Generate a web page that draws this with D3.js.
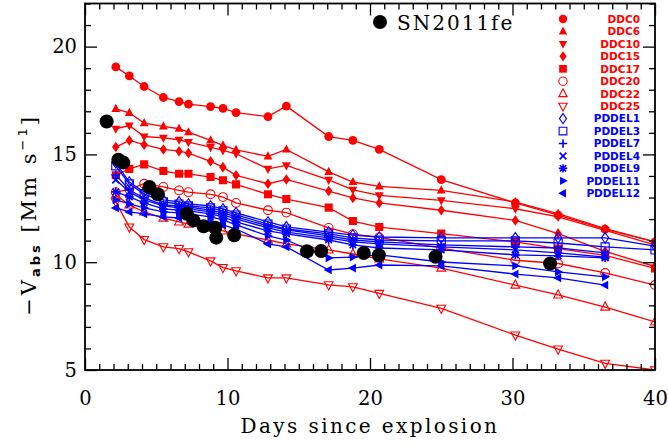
<!DOCTYPE html>
<html>
<head>
<meta charset="utf-8">
<script src="https://cdn.jsdelivr.net/npm/d3@7"></script>
<style>
  html, body { margin: 0; padding: 0; background: #fff; }
  svg { display: block; }
</style>
</head>
<body>
<script>
// ---------------- DATA ----------------
const epochs = [2.16, 3.11, 4.15, 5.5, 6.6, 7.26, 8.81, 9.68, 10.6, 12.84, 14.13, 17.1, 18.8, 20.65, 25.0, 30.2, 33.2, 36.5, 40];

const ddc0  = [19.06, 18.64, 18.15, 17.64, 17.45, 17.33, 17.22, 17.14, 16.94, 16.75, 17.24, 15.83, 15.65, 15.23, 13.83, 12.75, 12.18, 11.53, 10.94];
const ddc6  = [17.11, 16.93, 16.45, 16.30, 16.19, 16.03, 15.65, 15.42, 15.21, 14.91, 15.23, 14.19, 13.72, 13.52, 13.33, 12.79, 12.25, 11.56, 10.94];
const ddc10 = [16.19, 16.34, 15.83, 15.77, 15.68, 15.57, 15.34, 15.19, 15.03, 14.33, 14.49, 13.82, 13.36, 13.10, 12.87, 12.48, 12.10, 11.48, 10.80];
const ddc15 = [15.34, 15.65, 15.45, 15.23, 15.15, 15.06, 14.68, 14.41, 14.03, 13.64, 13.84, 13.30, 12.98, 12.75, 12.41, 11.94, 11.33, 10.50, 9.80];
const ddc17 = [14.03, 14.33, 14.54, 14.23, 14.10, 14.10, 13.95, 13.80, 13.61, 13.15, 12.93, 12.53, 11.91, 11.63, 11.33, 10.94, 10.63, 10.32, 9.71];
const ddc20 = [13.25, 13.38, 13.64, 13.49, 13.33, 13.25, 13.15, 13.02, 12.75, 12.41, 12.30, 11.59, 11.30, 11.15, 10.65, 10.09, 9.94, 9.50, 8.94];
const ddc22 = [13.12, 12.66, 12.33, 12.05, 11.87, 11.77, 11.59, 11.45, 11.31, 11.03, 10.85, 10.57, 10.38, 10.15, 9.73, 8.94, 8.48, 7.92, 7.23];
const ddc25 = [12.80, 11.63, 11.05, 10.71, 10.63, 10.48, 10.06, 9.75, 9.60, 9.27, 9.27, 8.95, 8.86, 8.55, 7.86, 6.62, 5.97, 5.31, 5.00];

const pddel1  = [14.61, 13.72, 13.26, 12.89, 12.80, 12.70, 12.61, 12.47, 12.29, 11.87, 11.64, 11.40, 11.26, 11.17, 11.13, 11.13, 11.13, 11.13, 10.75];
const pddel3  = [14.47, 13.63, 13.17, 12.80, 12.70, 12.61, 12.52, 12.38, 12.19, 11.77, 11.54, 11.31, 11.13, 11.03, 10.99, 10.99, 10.89, 10.71, 10.57];
const pddel7  = [14.05, 13.35, 12.98, 12.66, 12.61, 12.56, 12.42, 12.29, 12.10, 11.68, 11.50, 11.22, 11.03, 10.94, 10.80, 10.71, 10.66, 10.43];
const pddel4  = [13.82, 13.26, 12.89, 12.61, 12.52, 12.47, 12.33, 12.19, 12.01, 11.59, 11.40, 11.13, 10.94, 10.85, 10.71, 10.57, 10.43, 10.24];
const pddel9  = [13.26, 13.03, 12.75, 12.47, 12.42, 12.38, 12.24, 12.10, 11.87, 11.45, 11.31, 11.03, 10.80, 10.66, 10.57, 10.34, 10.29, 10.20];
const pddel11 = [12.89, 12.70, 12.52, 12.33, 12.29, 12.24, 12.10, 11.96, 11.73, 11.22, 11.03, 10.20, 10.24, 10.34, 10.01, 9.83, 9.55, 9.32];
const pddel12 = [12.52, 12.33, 12.24, 12.10, 12.05, 12.01, 11.87, 11.73, 11.54, 10.85, 10.71, 9.64, 9.73, 9.87, 9.83, 9.45, 9.27, 8.94];

const sn2011feDays = [1.52, 2.34, 2.69, 4.52, 5.11, 7.15, 7.61, 8.32, 9.14, 9.21, 10.47, 15.58, 16.57, 19.56, 20.62, 24.6, 32.64];
const sn2011feV    = [16.53, 14.75, 14.62, 13.49, 13.15, 12.25, 11.94, 11.67, 11.60, 11.14, 11.25, 10.51, 10.52, 10.43, 10.32, 10.25, 9.94];

const modelNames   = ["DDC0", "DDC6", "DDC10", "DDC15", "DDC17", "DDC20", "DDC22", "DDC25",
                      "PDDEL1", "PDDEL3", "PDDEL7", "PDDEL4", "PDDEL9", "PDDEL11", "PDDEL12"];
const modelValues  = [ddc0, ddc6, ddc10, ddc15, ddc17, ddc20, ddc22, ddc25,
                      pddel1, pddel3, pddel7, pddel4, pddel9, pddel11, pddel12];
const modelMarkers = ["circle", "triUp", "triDown", "diamond", "square", "oCircle", "oTriUp", "oTriDown",
                      "oDiamond", "oSquare", "plus", "cross", "asterisk", "triRight", "triLeft"];
const modelColors  = ["#ff0000", "#ff0000", "#ff0000", "#ff0000", "#ff0000", "#ff0000", "#ff0000", "#ff0000",
                      "#0000ff", "#0000ff", "#0000ff", "#0000ff", "#0000ff", "#0000ff", "#0000ff"];

const xTicks = [0, 10, 20, 30, 40];
const yTicks = [5, 10, 15, 20];

// ---------------- LAYOUT ----------------
const W = 668, H = 445;
const L = 85, R = 655, T = 3.5, B = 370;
const x = d3.scaleLinear().domain([0, 40]).range([L, R]);
const y = d3.scaleLinear().domain([5, 22]).range([B, T]);

const svg = d3.select("body").append("svg").attr("width", W).attr("height", H);
svg.append("rect").attr("width", W).attr("height", H).attr("fill", "#fff");

svg.append("defs").append("clipPath").attr("id", "plotclip")
  .append("rect").attr("x", L).attr("y", T).attr("width", R - L).attr("height", B - T);

function markerPath(type, r) {
  const t = type.replace(/^o(?=[A-Z])/, "").toLowerCase();
  switch (t) {
    case "circle": return d3.symbol(d3.symbolCircle, Math.PI * r * r)();
    case "square": { const s = r * 0.92; return `M${-s},${-s}H${s}V${s}H${-s}Z`; }
    case "triup": return `M0,${-1.15 * r}L${r},${0.7 * r}L${-r},${0.7 * r}Z`;
    case "tridown": return `M0,${1.15 * r}L${r},${-0.7 * r}L${-r},${-0.7 * r}Z`;
    case "triright": return `M${1.15 * r},0L${-0.7 * r},${-r}L${-0.7 * r},${r}Z`;
    case "trileft": return `M${-1.15 * r},0L${0.7 * r},${-r}L${0.7 * r},${r}Z`;
    case "diamond": return `M0,${-1.2 * r}L${0.85 * r},0L0,${1.2 * r}L${-0.85 * r},0Z`;
    case "plus": return `M${-r},0H${r}M0,${-r}V${r}`;
    case "cross": { const s = r * 0.8; return `M${-s},${-s}L${s},${s}M${-s},${s}L${s},${-s}`; }
    case "asterisk": { const s = r * 0.75; return `M${-r},0H${r}M0,${-r}V${r}M${-s},${-s}L${s},${s}M${-s},${s}L${s},${-s}`; }
  }
}
function isFilled(type) {
  return ["circle", "square", "triUp", "triDown", "triRight", "triLeft", "diamond"].includes(type);
}
function isLine(type) { return ["plus", "cross", "asterisk"].includes(type); }
function styleMarker(sel, type, color) {
  if (isFilled(type)) sel.attr("fill", color).attr("stroke", "none");
  else sel.attr("fill", "none").attr("stroke", color).attr("stroke-width", isLine(type) ? 1.6 : 1.1);
}

// ---------------- DATA MARKS ----------------
const plot = svg.append("g").attr("clip-path", "url(#plotclip)");
const line = d3.line().x(d => x(d[0])).y(d => y(d[1]));

modelNames.forEach((name, i) => {
  const pts = modelValues[i].map((v, j) => [epochs[j], v]);
  const g = plot.append("g").attr("class", "series-" + name);
  g.append("path").datum(pts).attr("d", line)
    .attr("fill", "none").attr("stroke", modelColors[i]).attr("stroke-width", 1.3);
  const m = g.selectAll("path.mk").data(pts).join("path").attr("class", "mk")
    .attr("transform", d => `translate(${x(d[0])},${y(d[1])})`)
    .attr("d", markerPath(modelMarkers[i], 4.4));
  styleMarker(m, modelMarkers[i], modelColors[i]);
});

const sn = sn2011feDays.map((d, i) => [d, sn2011feV[i]]);
plot.append("g").selectAll("circle").data(sn).join("circle")
  .attr("cx", d => x(d[0])).attr("cy", d => y(d[1])).attr("r", 7).attr("fill", "#000");

// ---------------- AXES ----------------
const tickFont = "'DejaVu Serif', serif";
function styleAxis(g) {
  g.select(".domain").remove();
  g.selectAll(".tick line").attr("stroke", "#000").attr("stroke-width", 1.3);
  g.selectAll(".tick text").attr("font-family", tickFont).attr("font-size", 19.5).attr("fill", "#000");
}
const xMinor = d3.range(0, 41, 1).filter(v => v % 10 !== 0);
const yMinor = d3.range(5, 23, 1).filter(v => v % 5 !== 0);

// bottom
svg.append("g").attr("transform", `translate(0,${B})`)
  .call(d3.axisBottom(x).tickValues(xTicks).tickSizeInner(-12).tickSizeOuter(0).tickPadding(21).tickFormat(d3.format("d")))
  .call(styleAxis);
svg.append("g").attr("transform", `translate(0,${B})`)
  .call(d3.axisBottom(x).tickValues(xMinor).tickSizeInner(-6).tickSizeOuter(0).tickFormat(""))
  .call(styleAxis);
// top
svg.append("g").attr("transform", `translate(0,${T})`)
  .call(d3.axisTop(x).tickValues(xTicks).tickSizeInner(-12).tickSizeOuter(0).tickFormat(""))
  .call(styleAxis);
svg.append("g").attr("transform", `translate(0,${T})`)
  .call(d3.axisTop(x).tickValues(xMinor).tickSizeInner(-6).tickSizeOuter(0).tickFormat(""))
  .call(styleAxis);
// left
svg.append("g").attr("transform", `translate(${L},0)`)
  .call(d3.axisLeft(y).tickValues(yTicks).tickSizeInner(-12).tickSizeOuter(0).tickPadding(8).tickFormat(d3.format("d")))
  .call(styleAxis);
svg.append("g").attr("transform", `translate(${L},0)`)
  .call(d3.axisLeft(y).tickValues(yMinor).tickSizeInner(-6).tickSizeOuter(0).tickFormat(""))
  .call(styleAxis);
// right
svg.append("g").attr("transform", `translate(${R},0)`)
  .call(d3.axisRight(y).tickValues(yTicks).tickSizeInner(-12).tickSizeOuter(0).tickFormat(""))
  .call(styleAxis);
svg.append("g").attr("transform", `translate(${R},0)`)
  .call(d3.axisRight(y).tickValues(yMinor).tickSizeInner(-6).tickSizeOuter(0).tickFormat(""))
  .call(styleAxis);

// frame
svg.append("rect").attr("x", L).attr("y", T).attr("width", R - L).attr("height", B - T)
  .attr("fill", "none").attr("stroke", "#000").attr("stroke-width", 1.8);

// axis titles
svg.append("text").attr("x", (L + R) / 2).attr("y", 433).attr("text-anchor", "middle")
  .attr("font-family", tickFont).attr("font-size", 20).attr("letter-spacing", 2.4)
  .text("Days since explosion");

const yl = svg.append("text").attr("transform", "translate(36,215) rotate(-90)")
  .attr("text-anchor", "middle").attr("font-family", tickFont).attr("font-size", 21)
  .attr("letter-spacing", 3);
yl.append("tspan").text("\u2212V");
yl.append("tspan").attr("font-family", "'DejaVu Sans', sans-serif").attr("font-size", 13)
  .attr("font-weight", "bold").attr("dy", 4).text("abs");
yl.append("tspan").attr("dy", -4).text(" [Mm s");
yl.append("tspan").attr("font-family", "'DejaVu Sans', sans-serif").attr("font-size", 13)
  .attr("dy", -9).text("\u22121");
yl.append("tspan").attr("dy", 9).text("]");

// ---------------- LEGENDS ----------------
const leg = svg.append("g");
modelNames.forEach((name, i) => {
  const cy = 19 + i * 12.45;
  const m = leg.append("path").attr("transform", `translate(563,${cy})`)
    .attr("d", markerPath(modelMarkers[i], 4.2));
  styleMarker(m, modelMarkers[i], modelColors[i]);
  leg.append("text").attr("x", 640).attr("y", cy + 3.8).attr("text-anchor", "end")
    .attr("font-family", "'DejaVu Sans', sans-serif").attr("font-weight", "bold")
    .attr("font-size", 10.5).attr("fill", modelColors[i]).text(name);
});

svg.append("circle").attr("cx", 380).attr("cy", 22).attr("r", 7).attr("fill", "#000");
svg.append("text").attr("x", 397).attr("y", 30).attr("font-family", tickFont)
  .attr("font-size", 20).attr("letter-spacing", 2).text("SN2011fe");
</script>
</body>
</html>
